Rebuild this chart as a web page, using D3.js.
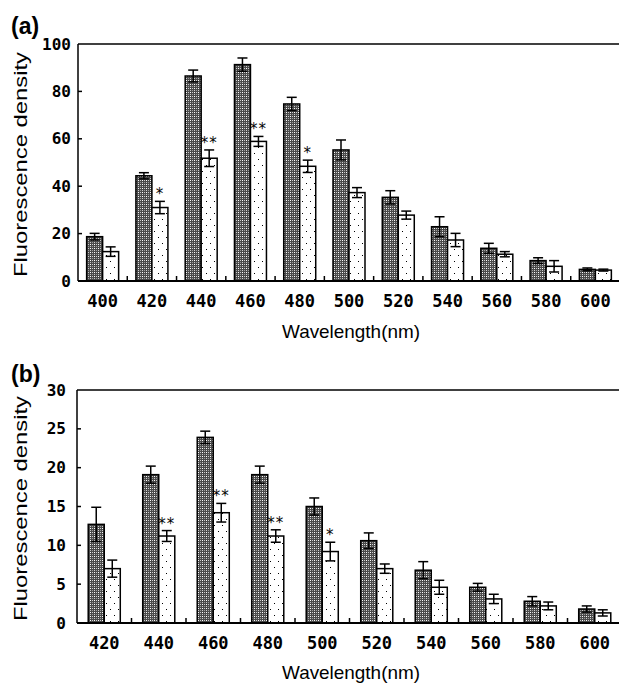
<!DOCTYPE html>
<html>
<head>
<meta charset="utf-8">
<script src="https://cdn.jsdelivr.net/npm/d3@7"></script>
<style>
  body { margin: 0; background: #fff; }
  svg { display: block; }
</style>
</head>
<body>
<svg id="chart" width="619" height="686"></svg>
<script>
// Panel (a) data
var wavelengthsA = [400, 420, 440, 460, 480, 500, 520, 540, 560, 580, 600];
var darkA    = [18.7, 44.4, 86.5, 91.3, 74.7, 55.3, 35.3, 22.9, 13.8, 8.6, 4.9];
var darkErrA = [1.4, 1.3, 2.5, 2.8, 2.8, 4.2, 2.8, 4.2, 2.1, 1.2, 0.6];
var lightA    = [12.4, 31.0, 51.8, 58.9, 48.4, 37.3, 27.8, 17.3, 11.3, 6.2, 4.6];
var lightErrA = [2.0, 2.6, 3.5, 2.1, 2.6, 2.1, 1.7, 2.8, 1.1, 2.4, 0.4];
var starsA = ["", "*", "**", "**", "*", "", "", "", "", "", ""];
var yTicksA = [0, 20, 40, 60, 80, 100];

// Panel (b) data
var wavelengthsB = [420, 440, 460, 480, 500, 520, 540, 560, 580, 600];
var darkB    = [12.7, 19.1, 23.9, 19.1, 15.0, 10.6, 6.8, 4.6, 2.8, 1.8];
var darkErrB = [2.2, 1.1, 0.8, 1.1, 1.1, 1.0, 1.1, 0.5, 0.6, 0.4];
var lightB    = [7.0, 11.2, 14.2, 11.2, 9.2, 7.0, 4.6, 3.1, 2.2, 1.3];
var lightErrB = [1.1, 0.7, 1.2, 0.8, 1.2, 0.6, 0.9, 0.6, 0.5, 0.4];
var starsB = ["", "**", "**", "**", "*", "", "", "", "", ""];
var yTicksB = [0, 5, 10, 15, 20, 25, 30];

var svg = d3.select("#chart");

// fill patterns
var defs = svg.append("defs");
var pd = defs.append("pattern").attr("id", "darkfill")
    .attr("patternUnits", "userSpaceOnUse").attr("width", 4).attr("height", 4);
pd.append("rect").attr("width", 4).attr("height", 4).attr("fill", "#4a4a4a");
pd.append("rect").attr("x", 0).attr("y", 0).attr("width", 1).attr("height", 1).attr("fill", "#ccc");
pd.append("rect").attr("x", 2).attr("y", 2).attr("width", 1).attr("height", 1).attr("fill", "#ccc");
pd.append("rect").attr("x", 2).attr("y", 0).attr("width", 1).attr("height", 1).attr("fill", "#fff");
pd.append("rect").attr("x", 0).attr("y", 2).attr("width", 1).attr("height", 1).attr("fill", "#999");

var pl = defs.append("pattern").attr("id", "lightfill")
    .attr("patternUnits", "userSpaceOnUse").attr("width", 8).attr("height", 12);
pl.append("rect").attr("width", 8).attr("height", 12).attr("fill", "#fff");
pl.append("rect").attr("x", 2).attr("y", 3).attr("width", 1).attr("height", 1).attr("fill", "#000");
pl.append("rect").attr("x", 6).attr("y", 9).attr("width", 1).attr("height", 1).attr("fill", "#000");

var drawPanel = function(p) {
    var g = svg.append("g");

    var x0 = d3.scaleBand().domain(p.cats).range([p.left, p.right]).padding(0);
    var x1 = d3.scaleBand().domain(["dark", "light"])
        .range([0, x0.bandwidth()]).paddingInner(0).paddingOuter(p.outer);
    var y = d3.scaleLinear().domain([0, p.ymax]).range([p.bottom, p.top]);

    var rows = p.cats.map(function(c, i) {
        return [
            { cat: c, key: "dark", v: p.dark[i], e: p.darkErr[i], star: "" },
            { cat: c, key: "light", v: p.light[i], e: p.lightErr[i], star: p.stars[i] }
        ];
    });
    var flat = d3.merge(rows);

    // frame: top line and left axis
    g.append("line").attr("x1", p.left).attr("x2", 619).attr("y1", p.top).attr("y2", p.top)
        .attr("stroke", "#000").attr("stroke-width", 1.5);
    g.append("line").attr("x1", p.left).attr("x2", p.left).attr("y1", p.top).attr("y2", p.bottom)
        .attr("stroke", "#000").attr("stroke-width", 1.5);

    // bars
    g.selectAll("rect.bar").data(flat).enter().append("rect")
        .attr("class", "bar")
        .attr("x", function(d) { return x0(d.cat) + x1(d.key); })
        .attr("width", x1.bandwidth())
        .attr("y", function(d) { return y(d.v); })
        .attr("height", function(d) { return p.bottom - y(d.v); })
        .attr("fill", function(d) { return d.key == "dark" ? "url(#darkfill)" : "url(#lightfill)"; })
        .attr("stroke", "#000").attr("stroke-width", 1.5);

    // error bars
    var eb = g.selectAll("g.err").data(flat).enter().append("g").attr("class", "err")
        .attr("transform", function(d) { return "translate(" + (x0(d.cat) + x1(d.key) + x1.bandwidth() / 2) + ",0)"; });
    eb.append("line")
        .attr("y1", function(d) { return y(d.v - d.e); })
        .attr("y2", function(d) { return y(d.v + d.e); })
        .attr("stroke", "#000").attr("stroke-width", 1.5);
    eb.append("line").attr("x1", -5).attr("x2", 5)
        .attr("y1", function(d) { return y(d.v + d.e); })
        .attr("y2", function(d) { return y(d.v + d.e); })
        .attr("stroke", "#000").attr("stroke-width", 1.5);
    eb.append("line").attr("x1", -5).attr("x2", 5)
        .attr("y1", function(d) { return y(d.v - d.e); })
        .attr("y2", function(d) { return y(d.v - d.e); })
        .attr("stroke", "#000").attr("stroke-width", 1.5);

    // significance stars
    eb.filter(function(d) { return d.star != ""; }).append("text")
        .attr("y", function(d) { return y(d.v + d.e) - 2; })
        .attr("text-anchor", "middle")
        .attr("font-family", "DejaVu Sans")
        .attr("font-size", 15)
        .attr("letter-spacing", 1)
        .attr("fill", "#000")
        .attr("opacity", 0.99)
        .text(function(d) { return d.star; });

    // x axis: baseline, inner ticks at band edges, labels
    var xAxis = d3.axisBottom(x0).tickSize(0).tickPadding(0);
    var ax = g.append("g").attr("transform", "translate(0," + p.bottom + ")").call(xAxis);
    ax.select(".domain").remove();
    ax.selectAll("text")
        .attr("y", 26)
        .attr("dy", null)
        .attr("font-family", "DejaVu Sans Mono")
        .attr("font-weight", "bold")
        .attr("font-size", 17)
        .attr("fill", "#000");
    g.append("line").attr("x1", p.left).attr("x2", 619).attr("y1", p.bottom).attr("y2", p.bottom)
        .attr("stroke", "#000").attr("stroke-width", 2);
    g.selectAll("line.xt").data(p.cats.slice(1)).enter().append("line")
        .attr("class", "xt")
        .attr("x1", function(c) { return x0(c); })
        .attr("x2", function(c) { return x0(c); })
        .attr("y1", p.bottom).attr("y2", p.bottom - 5)
        .attr("stroke", "#000").attr("stroke-width", 1.5);

    // y axis: inner ticks, labels
    var yAxis = d3.axisLeft(y).tickValues(p.yTicks).tickSize(0).tickPadding(p.ypad);
    var ay = g.append("g").attr("transform", "translate(" + p.left + ",0)").call(yAxis);
    ay.select(".domain").remove();
    ay.selectAll("text")
        .attr("font-family", "DejaVu Sans Mono")
        .attr("font-weight", "bold")
        .attr("font-size", 16)
        .attr("fill", "#000");
    g.selectAll("line.yt").data(p.yTicks.slice(1, -1)).enter().append("line")
        .attr("class", "yt")
        .attr("x1", p.left).attr("x2", p.left + 4)
        .attr("y1", function(v) { return y(v); })
        .attr("y2", function(v) { return y(v); })
        .attr("stroke", "#000").attr("stroke-width", 1.5);

    // axis titles
    g.append("text")
        .attr("transform", "translate(27," + ((p.top + p.bottom) / 2 + 2) + ") rotate(-90)")
        .attr("text-anchor", "middle")
        .attr("font-family", "Liberation Sans")
        .attr("font-size", 18)
        .attr("textLength", 225)
        .attr("lengthAdjust", "spacingAndGlyphs")
        .text("Fluorescence density");
    g.append("text")
        .attr("x", 351).attr("y", p.xtitle)
        .attr("text-anchor", "middle")
        .attr("font-family", "Liberation Sans")
        .attr("font-size", 19)
        .attr("textLength", 138)
        .attr("lengthAdjust", "spacingAndGlyphs")
        .text("Wavelength(nm)");

    // panel letter
    g.append("text")
        .attr("x", 11).attr("y", p.letterY)
        .attr("font-family", "Liberation Sans")
        .attr("font-weight", "bold")
        .attr("font-size", 23)
        .text(p.letter);
};

drawPanel({
    cats: wavelengthsA, dark: darkA, darkErr: darkErrA, light: lightA, lightErr: lightErrA,
    stars: starsA, yTicks: yTicksA, ymax: 100,
    left: 78, right: 620, top: 44, bottom: 281, outer: 0.54, ypad: 7,
    xtitle: 338, letter: "(a)", letterY: 34
});

drawPanel({
    cats: wavelengthsB, dark: darkB, darkErr: darkErrB, light: lightB, lightErr: lightErrB,
    stars: starsB, yTicks: yTicksB, ymax: 30,
    left: 77, right: 622, top: 390, bottom: 623, outer: 0.70, ypad: 11,
    xtitle: 679, letter: "(b)", letterY: 382
});
</script>
</body>
</html>
